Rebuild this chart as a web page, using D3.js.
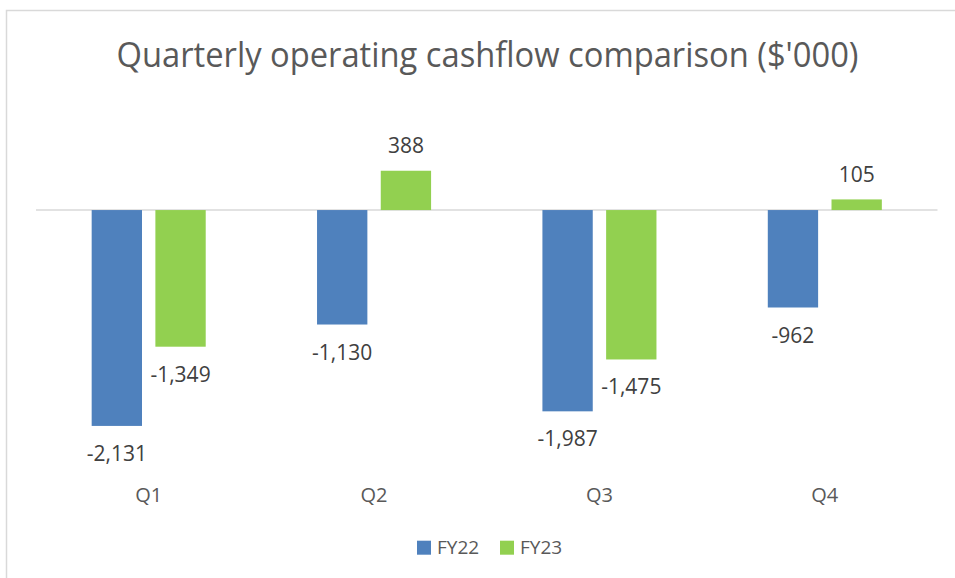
<!DOCTYPE html>
<html>
<head>
<meta charset="utf-8">
<script src="https://cdn.jsdelivr.net/npm/d3@7"></script>
<style>
  html, body { margin: 0; padding: 0; background: #fff; }
  svg { display: block; font-family: "Open Sans", "Noto Sans", sans-serif; }
</style>
</head>
<body>
<svg id="chart" width="955" height="578"></svg>
<script>
const titleText = "Quarterly operating cashflow comparison ($'000)";
const categories = ["Q1", "Q2", "Q3", "Q4"];
const seriesNames = ["FY22", "FY23"];
const fy22 = [-2131, -1130, -1987, -962];
const fy23 = [-1349, 388, -1475, 105];
const yDomain = [-2500, 500];
const colors = ["#4F81BD", "#92D050"];

const svg = d3.select("#chart");

// chart border
svg.append("rect")
  .attr("x", 6.5).attr("y", 10.5)
  .attr("width", 980).attr("height", 600)
  .attr("fill", "#fff").attr("stroke", "#d9d9d9").attr("stroke-width", 1.5);

const plot = { left: 36, right: 937.5, top: 159.4, bottom: 463.3 };

const x0 = d3.scaleBand().domain(categories).range([plot.left, plot.right])
  .paddingInner(0.494).paddingOuter(0.247);
const x1 = d3.scaleBand().domain(seriesNames).range([0, x0.bandwidth()])
  .paddingInner(0.21).paddingOuter(0);
const y = d3.scaleLinear().domain(yDomain).range([plot.bottom, plot.top]);

const rows = categories.map((c, i) => ({ cat: c, vals: [fy22[i], fy23[i]] }));
const locale = d3.formatLocale({ decimal: ".", thousands: ",", grouping: [3], currency: ["$", ""], minus: "-" });
const fmt = locale.format(",");

// zero line
svg.append("line")
  .attr("x1", plot.left).attr("x2", plot.right)
  .attr("y1", y(0)).attr("y2", y(0))
  .attr("stroke", "#d9d9d9").attr("stroke-width", 1.5);

const g = svg.selectAll("g.cat").data(rows).join("g")
  .attr("class", "cat")
  .attr("transform", d => `translate(${x0(d.cat)},0)`);

g.selectAll("rect").data(d => d.vals.map((v, j) => ({ v, s: seriesNames[j], j })))
  .join("rect")
  .attr("x", d => x1(d.s))
  .attr("width", x1.bandwidth())
  .attr("y", d => Math.min(y(d.v), y(0)))
  .attr("height", d => Math.abs(y(d.v) - y(0)))
  .attr("fill", d => colors[d.j]);

g.selectAll("text.lbl").data(d => d.vals.map((v, j) => ({ v, s: seriesNames[j], j })))
  .join("text")
  .attr("class", "lbl")
  .attr("x", d => x1(d.s) + x1.bandwidth() / 2)
  .attr("y", d => d.v < 0 ? y(d.v) + 35 : y(d.v) - 17.7)
  .attr("text-anchor", "middle")
  .attr("font-size", 21)
  .attr("fill", "#404040")
  .text(d => fmt(d.v));

// category axis labels
const xAxis = d3.axisBottom(x0).tickSize(0).tickPadding(0);
const ax = svg.append("g").attr("transform", `translate(0,502)`).call(xAxis);
ax.select(".domain").remove();
ax.selectAll("text")
  .attr("font-family", "Open Sans, Noto Sans, sans-serif")
  .attr("font-size", 20).attr("fill", "#595959").attr("dy", 0);

// title
const t = svg.append("text")
  .attr("x", 487.5).attr("y", 67)
  .attr("text-anchor", "middle")
  .attr("font-size", 35)
  .attr("fill", "#595959")
  .text(titleText);
const tl = t.node().getComputedTextLength();
if (Math.abs(tl - 742) > 4) t.attr("textLength", 742).attr("lengthAdjust", "spacingAndGlyphs");

// legend
const legendX = [417, 500];
const lg = svg.selectAll("g.leg").data(seriesNames).join("g")
  .attr("class", "leg")
  .attr("transform", (d, i) => `translate(${legendX[i]},540.7)`);
lg.append("rect").attr("width", 14).attr("height", 14).attr("fill", (d, i) => colors[i]);
lg.append("text").attr("x", 20).attr("y", 13.6)
  .attr("font-size", 19).attr("fill", "#595959").text(d => d);
</script>
</body>
</html>
